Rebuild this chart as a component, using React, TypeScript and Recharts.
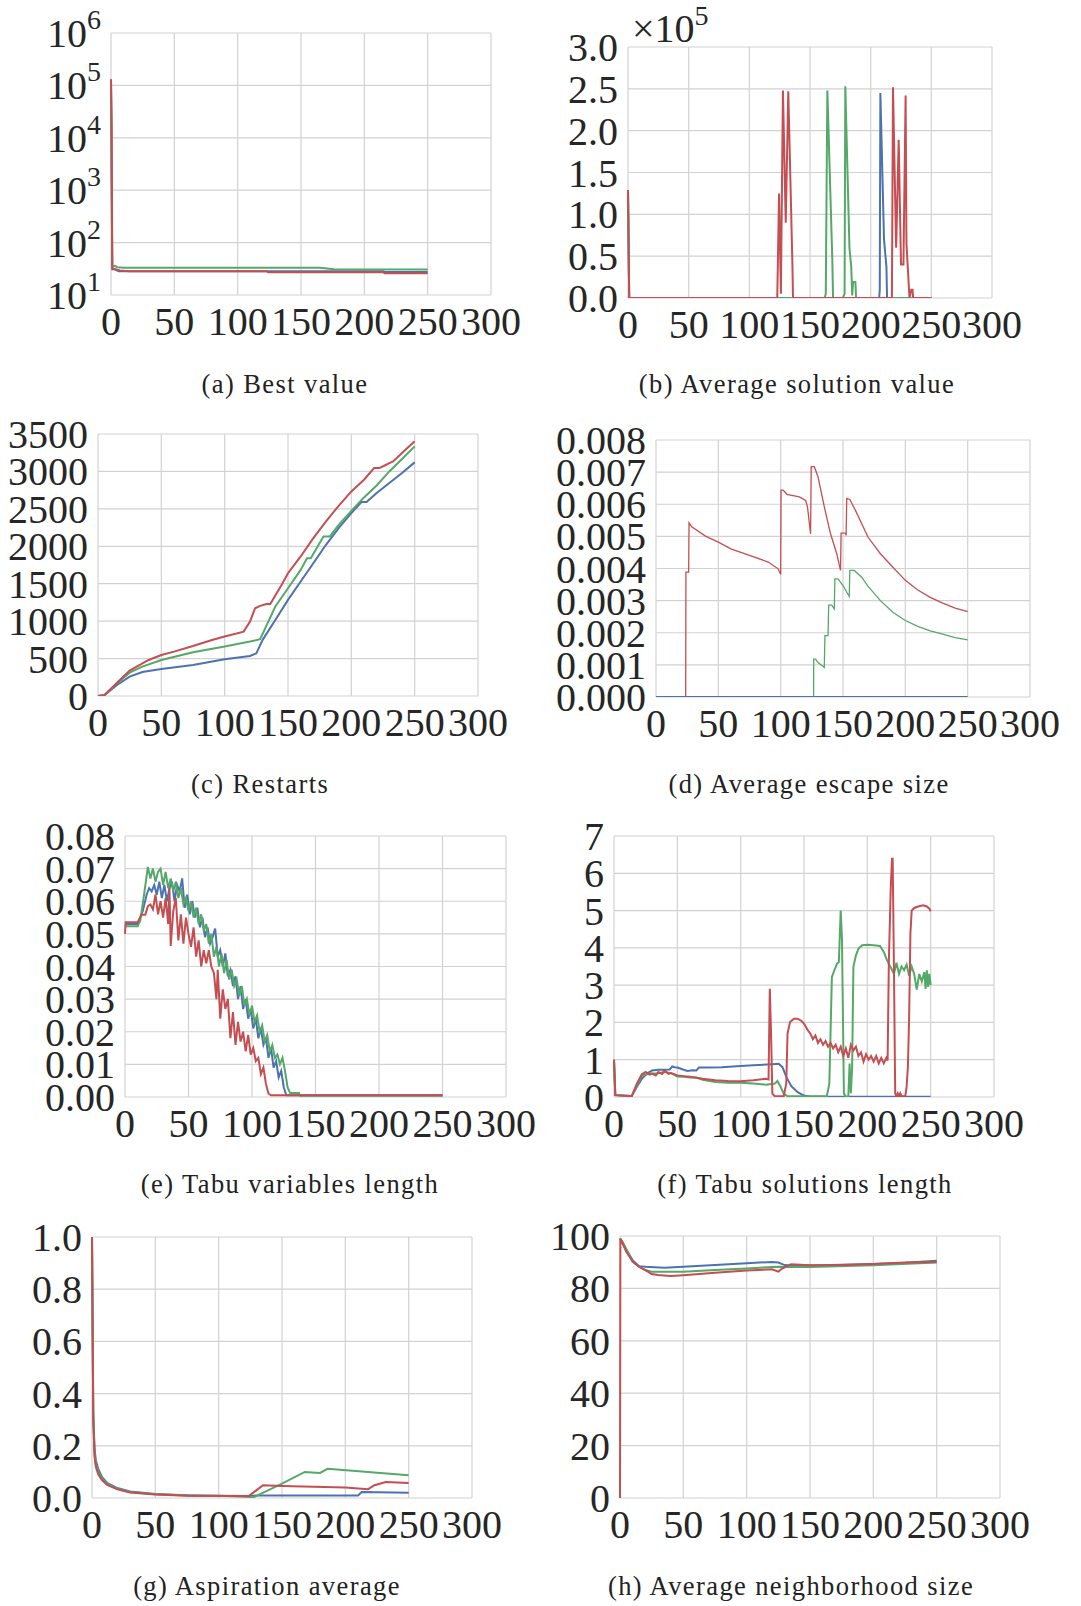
import React from "react";
import { LineChart, Line, XAxis, YAxis, CartesianGrid } from "recharts";

const BLUE = "#4c72b0";
const GREEN = "#55a868";
const RED = "#c44e52";
const FONT = "Liberation Serif";

type P = [number, number][];

const xTicks = [0, 50, 100, 150, 200, 250, 300];

// (a) Best value (log scale)
const bestTicks = [10, 100, 1000, 10000, 100000, 1000000];
const bestBlue: P = [[0, 130000], [1, 31], [3, 31], [6, 28.3], [215, 28.3], [216, 27.5], [250, 27.5]];
const bestGreen: P = [[0, 130000], [1, 35], [3, 36], [5, 34], [10, 33], [165, 33], [176, 31], [250, 30.5]];
const bestRed: P = [[0, 130000], [0.5, 20000], [1, 33], [3, 31], [7, 29.5], [14, 28.3], [123, 28.3], [124, 27.1], [215, 27.1], [216, 26], [250, 26]];

// (b) Average solution value
const avgTicks = [0, 50000, 100000, 150000, 200000, 250000, 300000];
const avgBlue: P = [[0, 129000], [1, 0], [207, 0], [207.5, 10000], [208, 245000], [211, 70000], [213, 37000], [213.5, 0], [250, 0]];
const avgGreen: P = [[0, 129000], [1, 0], [162, 0], [163, 5000], [164.3, 248000], [168.4, 45000], [169, 0], [177, 0], [178.5, 5000], [179.1, 253000], [182.5, 60000], [184, 37000], [184.8, 3000], [185.5, 19000], [187.4, 19000], [188, 0], [250, 0]];
const avgRed: P = [[0, 129000], [1, 0], [123, 0], [124.5, 125000], [126, 5000], [127.7, 248000], [130, 90000], [132.1, 247000], [135.5, 40000], [136, 0], [217.5, 0], [218.4, 252000], [221, 60000], [223.1, 189000], [225, 40000], [227, 40000], [228.8, 242000], [229.5, 65000], [232, 0], [233.5, 10000], [234.5, 10000], [235, 0], [250, 0]];

// (c) Restarts
const restTicks = [0, 500, 1000, 1500, 2000, 2500, 3000, 3500];
const restBlue: P = [[0, 0], [5, 10], [15, 147], [25, 259], [35, 320], [50, 360], [75, 415], [100, 490], [120, 535], [125, 570], [130, 750], [140, 1016], [150, 1284], [160, 1529], [170, 1774], [180, 2020], [190, 2243], [200, 2443], [208, 2590], [212, 2590], [220, 2711], [230, 2845], [240, 2978], [250, 3121]];
const restGreen: P = [[0, 0], [5, 10], [15, 170], [25, 312], [35, 392], [50, 481], [75, 584], [100, 660], [120, 727], [128, 758], [140, 1195], [150, 1440], [160, 1685], [165, 1841], [168, 1841], [178, 2131], [183, 2131], [190, 2287], [200, 2474], [210, 2653], [220, 2813], [230, 3000], [240, 3165], [250, 3335]];
const restRed: P = [[0, 0], [5, 10], [15, 178], [25, 339], [40, 481], [50, 548], [60, 593], [75, 669], [90, 749], [100, 794], [115, 860], [120, 994], [124, 1172], [128, 1204], [133, 1230], [136, 1230], [145, 1485], [150, 1640], [160, 1864], [170, 2109], [180, 2332], [190, 2541], [200, 2733], [210, 2889], [218, 3045], [222, 3045], [226, 3076], [230, 3112], [233, 3134], [240, 3246], [250, 3402]];

// (d) Average escape size
const escTicks = [0, 0.001, 0.002, 0.003, 0.004, 0.005, 0.006, 0.007, 0.008];
const escBlue: P = [[0, 0], [250, 0]];
const escGreen: P = [[0, 0], [126.4, 0], [126.5, 0.00118], [128, 0.00118], [130, 0.00107], [135, 0.00092], [135.5, 0.00191], [138, 0.00191], [138.5, 0.00286], [141, 0.00286], [143, 0.00274], [143.5, 0.00368], [146, 0.00368], [150, 0.00347], [155, 0.00313], [155.5, 0.00394], [159, 0.00394], [165, 0.00373], [170, 0.00345], [180, 0.003], [190, 0.00264], [200, 0.00238], [210, 0.0022], [220, 0.00206], [230, 0.00196], [240, 0.00185], [250, 0.00178]];
const escRed: P = [[0, 0], [23.8, 0], [24, 0.00389], [26.2, 0.00389], [26.5, 0.00542], [28.6, 0.0053], [40, 0.005], [50, 0.00482], [60, 0.00461], [75, 0.00441], [90, 0.0042], [98, 0.00399], [100, 0.00381], [100.3, 0.00644], [102, 0.00644], [105, 0.00631], [115, 0.00623], [120, 0.00612], [121.5, 0.00592], [124, 0.00508], [124.5, 0.00717], [127, 0.00717], [130, 0.00685], [135, 0.00592], [140, 0.00508], [145, 0.00446], [148, 0.00394], [148.5, 0.0051], [152, 0.0051], [152.5, 0.00503], [153, 0.00618], [155.5, 0.00615], [160, 0.00581], [170, 0.00498], [180, 0.00446], [190, 0.00404], [200, 0.00363], [210, 0.00333], [220, 0.0031], [230, 0.00292], [240, 0.00277], [250, 0.00266]];

// (e) Tabu variables length
const tvTicks = [0, 0.01, 0.02, 0.03, 0.04, 0.05, 0.06, 0.07, 0.08];
const tvBlue: P = [[0, 0.053], [10, 0.053], [14, 0.057], [17, 0.062], [19, 0.064], [21, 0.063], [23, 0.065], [25, 0.062], [27, 0.066], [29, 0.061], [31, 0.065], [33, 0.06], [35, 0.064], [37, 0.066], [39, 0.06], [41, 0.065], [43, 0.063], [45, 0.067], [47, 0.058], [49, 0.062], [51, 0.056], [53, 0.06], [55, 0.055], [57, 0.058], [59, 0.052], [61, 0.055], [63, 0.049], [65, 0.052], [67, 0.047], [69, 0.049], [71, 0.0516], [73, 0.043], [75, 0.045], [77, 0.04], [79, 0.044], [81, 0.037], [83, 0.039], [85, 0.034], [87, 0.037], [89, 0.03], [91, 0.034], [93, 0.027], [95, 0.03], [97, 0.024], [99, 0.027], [101, 0.021], [103, 0.024], [105, 0.018], [107, 0.021], [109, 0.016], [111, 0.018], [113, 0.012], [115, 0.015], [117, 0.009], [119, 0.011], [121, 0.006], [123, 0.008], [125, 0.003], [127, 0.0005], [250, 0.0005]];
const tvGreen: P = [[0, 0.0523], [10, 0.0523], [12, 0.054], [15, 0.062], [18, 0.0705], [20, 0.067], [22, 0.07], [24, 0.066], [26, 0.069], [28, 0.07], [30, 0.065], [32, 0.069], [34, 0.064], [36, 0.067], [38, 0.063], [40, 0.066], [42, 0.061], [44, 0.064], [46, 0.059], [48, 0.061], [50, 0.057], [52, 0.06], [54, 0.055], [56, 0.058], [58, 0.053], [60, 0.056], [62, 0.051], [64, 0.053], [66, 0.047], [68, 0.05], [70, 0.043], [72, 0.046], [74, 0.04], [76, 0.044], [78, 0.038], [80, 0.042], [82, 0.036], [84, 0.039], [86, 0.034], [88, 0.036], [90, 0.031], [92, 0.034], [94, 0.028], [96, 0.03], [98, 0.025], [100, 0.028], [102, 0.023], [104, 0.025], [106, 0.02], [108, 0.022], [110, 0.017], [112, 0.019], [114, 0.014], [116, 0.016], [118, 0.012], [120, 0.013], [122, 0.01], [124, 0.012], [126, 0.008], [128, 0.003], [130, 0.0012], [137, 0.0012], [138, 0.0004], [250, 0.0004]];
const tvRed: P = [[0, 0.05], [0.5, 0.0536], [10, 0.0536], [13, 0.0559], [16, 0.0559], [18, 0.0585], [20, 0.059], [22, 0.0575], [24, 0.062], [26, 0.056], [28, 0.06], [30, 0.055], [32, 0.061], [34, 0.053], [35, 0.064], [36, 0.0463], [38, 0.057], [40, 0.061], [42, 0.048], [44, 0.056], [46, 0.047], [48, 0.055], [50, 0.05], [52, 0.046], [54, 0.052], [56, 0.043], [58, 0.048], [60, 0.04], [62, 0.045], [64, 0.041], [66, 0.045], [68, 0.04], [70, 0.038], [72, 0.03], [73, 0.039], [75, 0.024], [77, 0.033], [79, 0.027], [81, 0.03], [83, 0.018], [85, 0.026], [87, 0.016], [89, 0.023], [91, 0.017], [93, 0.02], [95, 0.014], [97, 0.019], [99, 0.013], [101, 0.015], [103, 0.011], [105, 0.012], [107, 0.007], [109, 0.009], [111, 0.004], [113, 0.001], [115, 0.0005], [250, 0.0005]];

// (f) Tabu solutions length
const tsTicks = [0, 1, 2, 3, 4, 5, 6, 7];
const tsBlue: P = [[0, 1.0], [1, 0.05], [14, 0.03], [18, 0.27], [22, 0.49], [26, 0.63], [30, 0.71], [35, 0.73], [40, 0.73], [44, 0.74], [46, 0.82], [48, 0.8], [50, 0.79], [55, 0.73], [58, 0.7], [62, 0.72], [65, 0.71], [67, 0.79], [75, 0.79], [85, 0.8], [100, 0.83], [110, 0.85], [125, 0.88], [130, 0.89], [133, 0.8], [136, 0.54], [140, 0.29], [145, 0.13], [150, 0.04], [155, 0.01], [250, 0.01]];
const tsGreen: P = [[0, 1.0], [1, 0.05], [14, 0.03], [18, 0.31], [22, 0.58], [26, 0.61], [30, 0.63], [35, 0.64], [40, 0.67], [45, 0.64], [50, 0.55], [55, 0.54], [60, 0.52], [65, 0.52], [70, 0.46], [80, 0.4], [90, 0.38], [100, 0.38], [110, 0.36], [120, 0.33], [127, 0.36], [129, 0.43], [131, 0.31], [134, 0.09], [137, 0.02], [168, 0.02], [170, 0.36], [172, 3.22], [174, 3.4], [176, 3.57], [177.5, 3.62], [179, 5.0], [180, 4.2], [181.5, 0.09], [183, 0.01], [185, 0.01], [186, 0.9], [187, 0.1], [188, 0.8], [189, 3.49], [191, 3.8], [193, 3.98], [196, 4.07], [200, 4.08], [205, 4.07], [210, 4.05], [213, 3.89], [215, 3.71], [217, 3.57], [219, 3.44], [221, 3.3], [223, 3.6], [225, 3.3], [227, 3.5], [229, 3.4], [231, 3.55], [233, 3.25], [235, 3.5], [237, 3.3], [239, 2.88], [241, 3.3], [243, 3.1], [245, 3.35], [246, 2.9], [247, 3.4], [248, 2.95], [249, 3.3], [250, 3.0]];
const tsRed: P = [[0, 1.0], [1, 0.05], [14, 0.02], [18, 0.36], [22, 0.61], [25, 0.67], [28, 0.6], [30, 0.63], [33, 0.58], [35, 0.67], [38, 0.62], [40, 0.71], [43, 0.62], [45, 0.64], [50, 0.58], [55, 0.56], [60, 0.54], [70, 0.49], [80, 0.45], [90, 0.43], [100, 0.42], [110, 0.45], [120, 0.49], [122, 0.47], [123, 2.9], [124, 1.7], [125, 0.09], [127, 0.02], [134, 0.02], [136, 0.36], [137, 1.7], [139, 2.01], [142, 2.1], [145, 2.1], [148, 2.04], [150, 1.97], [153, 1.79], [155, 1.7], [157, 1.55], [159, 1.65], [161, 1.45], [163, 1.55], [165, 1.4], [167, 1.5], [169, 1.35], [171, 1.45], [173, 1.3], [175, 1.4], [177, 1.2], [179, 1.35], [181, 1.1], [183, 1.3], [185, 1.05], [187, 1.4], [189, 1.25], [191, 1.35], [193, 1.1], [195, 1.2], [197, 0.95], [199, 1.15], [201, 1.0], [203, 1.1], [205, 0.95], [207, 1.1], [209, 0.9], [211, 1.05], [213, 0.9], [215, 1.05], [216, 0.98], [217, 3.66], [218.5, 5.63], [219.5, 6.39], [220, 6.39], [221, 3.5], [222, 0.09], [223, 0.02], [224, 0.1], [225, 0.02], [226, 0.1], [227, 0.02], [230, 0.03], [231, 0.27], [232, 0.8], [233, 2.14], [234, 4.38], [235, 5.0], [237, 5.07], [240, 5.11], [244, 5.14], [247, 5.11], [249, 5.05], [250, 4.98]];

// (g) Aspiration average
const aspTicks = [0, 0.2, 0.4, 0.6, 0.8, 1.0];
const aspBlue: P = [[0, 1.0], [1, 0.33], [2, 0.19], [3, 0.145], [5, 0.11], [8, 0.08], [12, 0.058], [20, 0.038], [30, 0.025], [50, 0.015], [75, 0.011], [100, 0.009], [125, 0.008], [130, 0.01], [210, 0.01], [213, 0.023], [250, 0.02]];
const aspGreen: P = [[0, 1.0], [1, 0.31], [2, 0.17], [3, 0.13], [5, 0.1], [8, 0.074], [12, 0.055], [20, 0.036], [30, 0.023], [50, 0.014], [75, 0.01], [100, 0.009], [125, 0.004], [128, 0.004], [150, 0.055], [168, 0.1], [180, 0.096], [186, 0.112], [250, 0.087]];
const aspRed: P = [[0, 1.0], [1, 0.3], [2, 0.16], [3, 0.12], [5, 0.09], [8, 0.068], [12, 0.05], [20, 0.033], [30, 0.021], [50, 0.013], [75, 0.009], [100, 0.008], [124, 0.008], [135, 0.049], [150, 0.046], [200, 0.04], [218, 0.034], [223, 0.049], [232, 0.061], [250, 0.057]];

// (h) Average neighborhood size
const nbTicks = [0, 20, 40, 60, 80, 100];
const nbBlue: P = [[0, 99], [2, 97.8], [5, 94.6], [10, 90.8], [15, 88.5], [20, 88.3], [35, 87.9], [50, 88.3], [75, 88.9], [100, 89.6], [120, 90.1], [125, 89.9], [130, 88.9], [135, 88.7], [150, 88.7], [200, 89.3], [225, 89.8], [250, 90.6]];
const nbGreen: P = [[0, 99], [5, 95], [10, 90.2], [15, 88.3], [20, 87.0], [25, 86.4], [50, 86.4], [75, 87.0], [100, 87.6], [125, 88.3], [150, 88.2], [200, 88.8], [250, 89.9]];
const nbRed: P = [[0, 0], [0.3, 99], [5, 94.0], [10, 90.2], [15, 88.3], [20, 87.0], [25, 85.5], [30, 85.1], [40, 84.7], [50, 85.0], [75, 86.0], [100, 86.8], [120, 87.3], [125, 86.4], [128, 87.6], [135, 89.2], [150, 88.8], [175, 88.9], [200, 89.3], [225, 89.9], [250, 90.1]];

const toPts = (a: P) => a.map(([x, y]) => ({ x, y }));

const MT = 30;
const MR = 45;
const XH = 60;
const txtStyle = { fontFamily: FONT, fontSize: 40, fill: "#262626" };

type Series = { data: P; color: string; width?: number };

const XTick = ({ x, y, payload }: any) => (
  <text x={x} y={y} dy={28} textAnchor="middle" style={txtStyle}>
    {String(payload.value)}
  </text>
);

const makeYTick = (fmt: (v: number) => string) => ({ x, y, payload }: any) => (
  <text x={x} y={y} dy={14} textAnchor="end" style={txtStyle}>
    {fmt(payload.value)}
  </text>
);

const LogTick = ({ x, y, payload }: any) => {
  const exp = Math.round(Math.log10(payload.value));
  return (
    <text x={x} y={y} dy={14} textAnchor="end" style={txtStyle}>
      <tspan>10</tspan>
      <tspan dy={-18} style={{ fontSize: 28 }}>{exp}</tspan>
    </text>
  );
};

const Panel = ({
  l, t, w, h, yWidth, ticks, fmt, log, series,
}: {
  l: number; t: number; w: number; h: number; yWidth: number;
  ticks: number[]; fmt?: (v: number) => string; log?: boolean; series: Series[];
}) => {
  const YTick = makeYTick(fmt ?? ((v: number) => String(v)));
  return (
    <div style={{ position: "absolute", left: l - yWidth, top: t - MT }}>
      <LineChart width={yWidth + w + MR} height={MT + h + XH} margin={{ top: MT, right: MR, bottom: 0, left: 0 }}>
        <CartesianGrid stroke="#d2d2d2" strokeWidth={1.2} />
        <XAxis
          type="number"
          dataKey="x"
          domain={[0, 300]}
          ticks={xTicks}
          interval={0}
          height={XH}
          axisLine={false}
          tickLine={false}
          tickSize={0}
          tickMargin={12}
          tick={<XTick />}
        />
        <YAxis
          type="number"
          dataKey="y"
          scale={log ? "log" : "auto"}
          domain={[ticks[0], ticks[ticks.length - 1]]}
          allowDataOverflow
          ticks={ticks}
          interval={0}
          width={yWidth}
          axisLine={false}
          tickLine={false}
          tickSize={0}
          tickMargin={10}
          tick={log ? <LogTick /> : <YTick />}
        />
        {series.map((s, i) => (
          <Line
            key={i}
            data={toPts(s.data)}
            dataKey="y"
            type="linear"
            stroke={s.color}
            strokeWidth={s.width ?? 2}
            dot={false}
            activeDot={false}
            isAnimationActive={false}
          />
        ))}
      </LineChart>
    </div>
  );
};

const Caption = ({ cx, baseline, text }: { cx: number; baseline: number; text: string }) => (
  <div
    style={{
      position: "absolute",
      left: cx - 300,
      width: 600,
      top: baseline - 22,
      textAlign: "center",
      fontFamily: FONT,
      fontSize: 26.5,
      lineHeight: "26px",
      letterSpacing: 1.4,
      color: "#222",
      whiteSpace: "nowrap",
    }}
  >
    {text}
  </div>
);

export default function App() {
  return (
    <div style={{ position: "absolute", left: 0, top: 0, width: 1081, height: 1606, background: "#fff", overflow: "hidden", fontFamily: FONT }}>
      <Panel l={111} t={33} w={380} h={262} yWidth={111} ticks={bestTicks} log
        series={[{ data: bestBlue, color: BLUE }, { data: bestGreen, color: GREEN }, { data: bestRed, color: RED }]} />
      <Caption cx={285} baseline={393} text="(a) Best value" />

      <Panel l={628} t={47} w={364} h={251} yWidth={130} ticks={avgTicks} fmt={(v) => (v / 1e5).toFixed(1)}
        series={[{ data: avgBlue, color: BLUE }, { data: avgGreen, color: GREEN }, { data: avgRed, color: RED }]} />
      <div style={{ position: "absolute", left: 632, top: 9, fontFamily: FONT, fontSize: 40, lineHeight: "40px", color: "#262626", whiteSpace: "nowrap" }}>
        ×10<span style={{ fontSize: 28, position: "relative", top: -17 }}>5</span>
      </div>
      <Caption cx={797} baseline={393} text="(b) Average solution value" />

      <Panel l={98} t={434} w={380} h={262} yWidth={98} ticks={restTicks} fmt={(v) => String(v)}
        series={[{ data: restBlue, color: BLUE }, { data: restGreen, color: GREEN }, { data: restRed, color: RED }]} />
      <Caption cx={260} baseline={793} text="(c) Restarts" />

      <Panel l={656} t={440} w={374} h={257} yWidth={125} ticks={escTicks} fmt={(v) => v.toFixed(3)}
        series={[{ data: escGreen, color: GREEN, width: 1.3 }, { data: escRed, color: RED, width: 1.3 }, { data: escBlue, color: BLUE, width: 2.2 }]} />
      <Caption cx={809} baseline={793} text="(d) Average escape size" />

      <Panel l={125} t={836} w={381} h={261} yWidth={125} ticks={tvTicks} fmt={(v) => v.toFixed(2)}
        series={[{ data: tvBlue, color: BLUE }, { data: tvGreen, color: GREEN }, { data: tvRed, color: RED }]} />
      <Caption cx={290} baseline={1193} text="(e) Tabu variables length" />

      <Panel l={614} t={836} w={380} h={261} yWidth={80} ticks={tsTicks} fmt={(v) => String(v)}
        series={[{ data: tsBlue, color: BLUE }, { data: tsGreen, color: GREEN }, { data: tsRed, color: RED }]} />
      <Caption cx={805} baseline={1193} text="(f) Tabu solutions length" />

      <Panel l={92} t={1237} w={380} h={261} yWidth={92} ticks={aspTicks} fmt={(v) => v.toFixed(1)}
        series={[{ data: aspBlue, color: BLUE }, { data: aspGreen, color: GREEN }, { data: aspRed, color: RED }]} />
      <Caption cx={267} baseline={1595} text="(g) Aspiration average" />

      <Panel l={620} t={1236} w={380} h={262} yWidth={110} ticks={nbTicks} fmt={(v) => String(v)}
        series={[{ data: nbBlue, color: BLUE }, { data: nbGreen, color: GREEN }, { data: nbRed, color: RED }]} />
      <Caption cx={791} baseline={1595} text="(h) Average neighborhood size" />
    </div>
  );
}
